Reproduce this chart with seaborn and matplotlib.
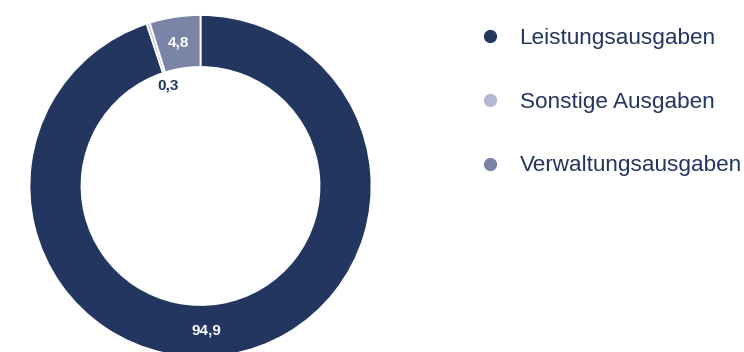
import numpy as np
import matplotlib
matplotlib.use("Agg")
import matplotlib.pyplot as plt
from matplotlib.lines import Line2D
import seaborn as sns

# data
categories = ["Leistungsausgaben", "Sonstige Ausgaben", "Verwaltungsausgaben"]
values = [94.9, 0.3, 4.8]
value_labels = ["94,9", "0,3", "4,8"]

sns.set_style("white")
plt.rcParams['font.family'] = ['Liberation Sans', 'DejaVu Sans']

palette = sns.color_palette(["#22365f", "#b3b9d3", "#7a84a7"])
text_dark = "#22365f"

W, H = 744, 352
fig = plt.figure(figsize=(W / 100, H / 100), dpi=100)

cx, cy, R = 200.5, 186.0, 171.0
ax = fig.add_axes([(cx - R) / W, (H - cy - R) / H, 2 * R / W, 2 * R / H])
ax.set_xlim(-1, 1)
ax.set_ylim(-1, 1)
ax.axis("off")

ring_w = 52 / R
wedges, _ = ax.pie(values, colors=palette, startangle=90, counterclock=False,
                   radius=1.0,
                   wedgeprops=dict(width=ring_w, edgecolor="white", linewidth=1.3))
ax.set_xlim(-1, 1)
ax.set_ylim(-1, 1)

r_mid = 1 - ring_w / 2
# label placement (radius factor, colour, optional angle override)
label_style = [
    (r_mid, "white", -87.7),
    (106 / R, text_dark, None),
    (r_mid, "white", None),
]
for w, lab, (rr, col, ang) in zip(wedges, value_labels, label_style):
    if ang is None:
        ang = (w.theta1 + w.theta2) / 2
    a = np.deg2rad(ang)
    ax.text(rr * np.cos(a), rr * np.sin(a), lab, ha="center", va="center",
            color=col, fontsize=11, fontweight="bold")

handles = [Line2D([], [], marker="o", linestyle="none", markersize=8.5,
                  markerfacecolor=c, markeredgecolor=c) for c in palette]
leg = fig.legend(handles, categories, loc="upper left",
                 bbox_to_anchor=(479 / W, 1 - 28 / H), frameon=False,
                 fontsize=16.2, labelcolor=text_dark, labelspacing=1.9,
                 handlelength=1.0, handletextpad=0.8, borderpad=0, borderaxespad=0)

fig.savefig("out.png", dpi=100)
